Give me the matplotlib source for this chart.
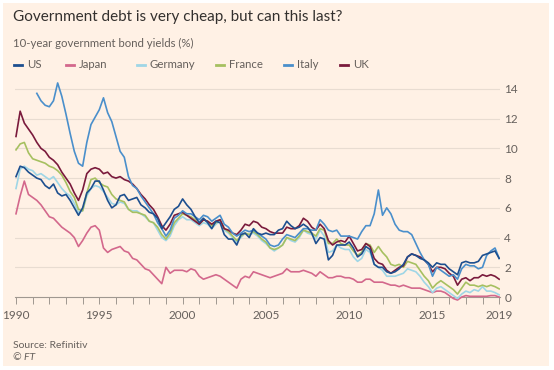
import matplotlib
matplotlib.use("Agg")
import matplotlib.pyplot as plt
import numpy as np
from matplotlib.patches import Rectangle
from matplotlib.lines import Line2D

nan = np.nan

# quarterly readings, 1990 Q1 .. 2019 Q1
quarters = np.arange(1990, 2019.01, 0.25)

us = [8.1, 8.8, 8.7, 8.4, 8.2, 8.0, 7.9, 7.5, 7.3, 7.6, 7.0, 6.8,
      6.9, 6.5, 6.0, 5.5, 6.0, 7.0, 7.3, 7.8, 7.8, 7.2, 6.5, 6.0,
      6.2, 6.8, 6.9, 6.5, 6.6, 6.7, 6.2, 6.0, 5.7, 5.6, 5.3, 4.6,
      5.0, 5.4, 5.9, 6.1, 6.6, 6.2, 5.9, 5.4, 5.0, 5.3, 5.0, 4.6,
      5.1, 5.0, 4.2, 3.9, 3.9, 3.5, 4.2, 4.3, 4.0, 4.6, 4.3, 4.2,
      4.3, 4.2, 4.2, 4.5, 4.6, 5.1, 4.8, 4.6, 4.7, 4.9, 4.7, 4.3,
      3.6, 4.0, 3.9, 2.5, 2.8, 3.5, 3.5, 3.5, 3.7, 3.3, 2.7, 2.9,
      3.4, 3.2, 2.2, 2.0, 2.0, 1.7, 1.6, 1.7, 1.9, 2.2, 2.7, 2.9,
      2.8, 2.6, 2.5, 2.3, 2.0, 2.3, 2.2, 2.2, 1.9, 1.7, 1.5, 2.3,
      2.4, 2.3, 2.3, 2.4, 2.8, 2.9, 3.0, 3.1, 2.6]

japan = [5.6, 6.8, 7.8, 6.9, 6.7, 6.5, 6.2, 5.8, 5.4, 5.3, 5.0, 4.7,
         4.5, 4.3, 4.0, 3.4, 3.8, 4.3, 4.7, 4.8, 4.5, 3.3, 3.0, 3.2,
         3.3, 3.4, 3.1, 3.0, 2.6, 2.5, 2.2, 1.9, 1.8, 1.5, 1.2, 0.9,
         2.0, 1.6, 1.8, 1.8, 1.8, 1.7, 1.9, 1.8, 1.4, 1.2, 1.3, 1.4,
         1.5, 1.4, 1.2, 1.0, 0.8, 0.6, 1.2, 1.4, 1.3, 1.7, 1.6, 1.5,
         1.4, 1.3, 1.4, 1.5, 1.6, 1.9, 1.7, 1.7, 1.7, 1.8, 1.7, 1.6,
         1.4, 1.7, 1.5, 1.3, 1.3, 1.4, 1.4, 1.3, 1.3, 1.2, 1.0, 1.0,
         1.2, 1.2, 1.0, 1.0, 1.0, 0.9, 0.8, 0.8, 0.7, 0.8, 0.7, 0.6,
         0.6, 0.6, 0.5, 0.4, 0.3, 0.4, 0.4, 0.3, 0.1, -0.1, -0.2, 0.0,
         0.1, 0.05, 0.05, 0.05, 0.05, 0.05, 0.1, 0.1, 0.0]

germany = [7.3, 8.6, 8.8, 8.6, 8.5, 8.2, 8.3, 8.1, 7.9, 8.1, 7.7, 7.3,
           7.0, 6.8, 6.3, 5.7, 5.8, 6.8, 7.3, 7.5, 7.4, 7.1, 6.7, 6.3,
           6.2, 6.4, 6.3, 5.9, 5.8, 5.8, 5.6, 5.4, 5.1, 5.0, 4.5, 4.0,
           3.8, 4.1, 4.8, 5.2, 5.4, 5.2, 5.2, 5.0, 4.8, 5.0, 4.9, 4.6,
           4.9, 5.1, 4.5, 4.3, 4.0, 3.7, 4.0, 4.3, 4.2, 4.3, 4.1, 3.8,
           3.6, 3.3, 3.1, 3.3, 3.5, 4.0, 3.8, 3.7, 4.0, 4.5, 4.3, 4.2,
           3.9, 4.5, 4.1, 3.0, 3.1, 3.5, 3.3, 3.2, 3.2, 2.7, 2.4, 2.6,
           3.2, 3.0, 2.2, 2.0, 1.8, 1.4, 1.4, 1.4, 1.5, 1.6, 1.9, 1.8,
           1.7, 1.4, 1.0, 0.7, 0.3, 0.6, 0.7, 0.5, 0.3, 0.1, -0.1, 0.2,
           0.4, 0.3, 0.5, 0.4, 0.7, 0.4, 0.4, 0.3, 0.15]

france = [9.9, 10.3, 10.4, 9.7, 9.3, 9.2, 9.1, 9.0, 8.8, 8.7, 8.5, 8.2,
          7.7, 7.1, 6.7, 5.9, 5.8, 7.0, 7.9, 8.0, 7.7, 7.5, 7.4, 6.9,
          6.6, 6.5, 6.4, 5.9, 5.7, 5.7, 5.6, 5.5, 5.1, 5.0, 4.7, 4.2,
          3.9, 4.3, 5.0, 5.3, 5.6, 5.5, 5.4, 5.2, 4.9, 5.2, 5.1, 4.8,
          5.0, 5.2, 4.6, 4.4, 4.1, 3.8, 4.1, 4.3, 4.2, 4.4, 4.2, 3.9,
          3.7, 3.3, 3.2, 3.3, 3.5, 4.0, 3.9, 3.8, 4.1, 4.5, 4.4, 4.3,
          4.1, 4.6, 4.5, 3.6, 3.6, 3.9, 3.6, 3.5, 3.5, 3.1, 2.8, 3.0,
          3.6, 3.5, 3.0, 3.4, 3.0, 2.7, 2.2, 2.1, 2.2, 2.0, 2.4, 2.3,
          2.2, 1.8, 1.4, 1.1, 0.6, 0.9, 1.1, 0.9, 0.7, 0.5, 0.2, 0.6,
          1.0, 0.8, 0.8, 0.7, 0.8, 0.7, 0.8, 0.7, 0.55]

italy = [nan, nan, nan, nan, nan, 13.7, 13.2, 12.9, 12.8, 13.2, 14.4, 13.5,
         12.3, 11.0, 9.8, 9.0, 8.8, 10.4, 11.6, 12.1, 12.6, 13.4, 12.4, 11.8,
         10.8, 9.8, 9.4, 8.1, 7.5, 7.3, 6.8, 6.4, 6.0, 5.6, 5.0, 4.6,
         4.1, 4.5, 5.3, 5.5, 5.8, 5.6, 5.6, 5.4, 5.2, 5.5, 5.4, 5.1,
         5.3, 5.5, 4.9, 4.7, 4.3, 4.1, 4.3, 4.5, 4.4, 4.5, 4.3, 4.1,
         3.9, 3.5, 3.4, 3.5, 3.9, 4.2, 4.1, 4.0, 4.3, 4.6, 4.6, 4.5,
         4.5, 5.2, 4.9, 4.5, 4.4, 4.5, 4.1, 4.1, 4.1, 4.0, 3.9, 4.4,
         4.8, 4.8, 5.6, 7.2, 5.5, 6.0, 5.6, 4.9, 4.5, 4.4, 4.4, 4.2,
         3.6, 3.0, 2.5, 2.2, 1.4, 2.0, 1.8, 1.6, 1.4, 1.5, 1.2, 1.9,
         2.2, 2.1, 2.1, 1.9, 2.0, 2.8, 3.1, 3.3, 2.6]

uk = [10.8, 12.5, 11.7, 11.3, 10.9, 10.4, 10.0, 9.8, 9.4, 9.2, 8.9, 8.4,
      8.0, 7.6, 7.0, 6.5, 7.2, 8.3, 8.6, 8.7, 8.6, 8.3, 8.4, 8.1,
      8.0, 8.1, 7.9, 7.8, 7.6, 7.3, 6.9, 6.6, 6.2, 5.9, 5.4, 4.8,
      4.5, 4.9, 5.5, 5.6, 5.7, 5.5, 5.3, 5.1, 4.9, 5.2, 5.1, 4.9,
      5.1, 5.2, 4.6, 4.5, 4.3, 4.2, 4.5, 4.9, 4.8, 5.1, 5.0, 4.7,
      4.6, 4.4, 4.3, 4.3, 4.3, 4.7, 4.6, 4.6, 4.8, 5.3, 5.1, 4.7,
      4.5, 4.9, 4.6, 3.8, 3.5, 3.7, 3.8, 3.7, 4.1, 3.6, 3.1, 3.2,
      3.6, 3.4, 2.6, 2.3, 2.2, 1.8, 1.6, 1.8, 2.0, 2.1, 2.7, 2.9,
      2.8, 2.7, 2.5, 2.2, 1.7, 2.0, 2.0, 1.9, 1.6, 1.4, 0.8, 1.2,
      1.3, 1.1, 1.3, 1.3, 1.5, 1.4, 1.5, 1.4, 1.2]

series_names = ["US", "Japan", "Germany", "France", "Italy", "UK"]
series_values = [us, japan, germany, france, italy, uk]
colors = ["#1d4f8f", "#d3688c", "#9fd6e6", "#a6c060", "#4a8fcb", "#7a1a3c"]
draw_order = ["Japan", "Germany", "France", "UK", "Italy", "US"]

year_ticks = [1990, 1995, 2000, 2005, 2010, 2015, 2019]
y_ticks = [0, 2, 4, 6, 8, 10, 12, 14]

bg = "#fff1e5"
grey = "#66605c"

fig = plt.figure(figsize=(5.54, 3.70), dpi=100, facecolor="white")
plt.rcParams['font.family'] = ['Lato', 'DejaVu Sans']
fig.patches.append(Rectangle((3 / 554, 4 / 370), 546 / 554, 363 / 370,
                             transform=fig.transFigure, facecolor=bg,
                             edgecolor="none", zorder=-10))

ax = fig.add_axes([15 / 554, 1 - 303 / 370, 485 / 554, 226 / 370])
ax.set_facecolor(bg)
ax.patch.set_alpha(0)

lookup = dict(zip(series_names, zip(series_values, colors)))
for name in draw_order:
    vals, c = lookup[name]
    ax.plot(quarters, np.array(vals, dtype=float), color=c, lw=1.2,
            solid_joinstyle="round", zorder=3)

ax.set_xlim(1989.94, 2019.05)
ax.set_ylim(-0.4, 14.8)

for s in ["top", "left", "right"]:
    ax.spines[s].set_visible(False)
ax.spines["bottom"].set_position(("data", 0))
ax.spines["bottom"].set_color("#a09890")
ax.spines["bottom"].set_linewidth(0.8)
ax.spines["bottom"].set_zorder(2)

ax.set_xticks(year_ticks)
ax.set_xticklabels([str(y) for y in year_ticks])
ax.set_xticks(np.arange(1990, 2020), minor=True)
ax.tick_params(axis="x", which="both", length=5, width=0.7, color="#a09890",
               labelsize=8.5, labelcolor=grey, pad=4)

ax.yaxis.tick_right()
ax.set_yticks(y_ticks)
ax.set_yticklabels([str(v) for v in y_ticks])
ax.tick_params(axis="y", length=0, labelsize=8.5, labelcolor=grey, pad=3)
for v in y_ticks[1:]:
    ax.axhline(v, color="#e8dcd1", lw=0.8, zorder=1)

fig.text(13 / 554, 1 - 17 / 370, "Government debt is very cheap, but can this last?",
         fontsize=11, color="#33302e", va="center", ha="left")
fig.text(13 / 554, 1 - 43 / 370, "10-year government bond yields (%)",
         fontsize=8.2, color=grey, va="center", ha="left")

leg_x = [14, 66, 137, 216, 284, 340]
for name, c, lx in zip(series_names, colors, leg_x):
    fig.lines.append(Line2D([lx / 554, (lx + 8) / 554], [1 - 65 / 370] * 2,
                            transform=fig.transFigure, color=c, lw=2))
    fig.text((lx + 13) / 554, 1 - 65 / 370, name, fontsize=8.2, color=grey,
             va="center", ha="left")

fig.text(13 / 554, 1 - 345 / 370, "Source: Refinitiv", fontsize=7.5,
         color=grey, va="center", ha="left")
fig.text(13 / 554, 1 - 358 / 370, "© FT", fontsize=7.5, color=grey,
         va="center", ha="left", style="italic")

fig.savefig("out.png", dpi=100, facecolor="white")
